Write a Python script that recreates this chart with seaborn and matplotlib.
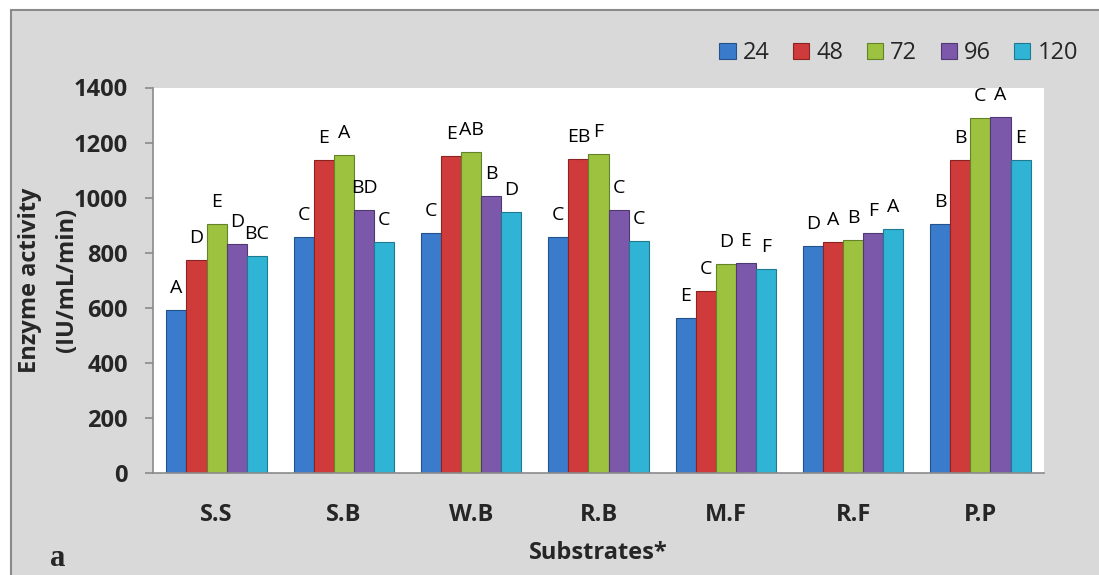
import pandas as pd
import matplotlib
matplotlib.use('Agg')
import matplotlib.pyplot as plt
import seaborn as sns
from matplotlib.patches import Patch, Rectangle

# data
substrates = ['S.S', 'S.B', 'W.B', 'R.B', 'M.F', 'R.F', 'P.P']
hours = ['24', '48', '72', '96', '120']
act_24 = [592, 856, 870, 857, 561, 823, 903]
act_48 = [773, 1137, 1150, 1140, 661, 838, 1137]
act_72 = [904, 1154, 1165, 1159, 758, 845, 1289]
act_96 = [831, 954, 1005, 955, 761, 870, 1292]
act_120 = [788, 838, 947, 841, 740, 884, 1137]
let_24 = ['A', 'C', 'C', 'C', 'E', 'D', 'B']
let_48 = ['D', 'E', 'E', 'EB', 'C', 'A', 'B']
let_72 = ['E', 'A', 'AB', 'F', 'D', 'B', 'C']
let_96 = ['D', 'BD', 'B', 'C', 'E', 'F', 'A']
let_120 = ['BC', 'C', 'D', 'C', 'F', 'A', 'E']

colors = ['#3b7bcb', '#cf3b3b', '#9cc23f', '#7c58aa', '#30b4d5']
edges = ['#24528c', '#8c2323', '#63822a', '#503873', '#1f7a91']

acts = [act_24, act_48, act_72, act_96, act_120]
lets = [let_24, let_48, let_72, let_96, let_120]
rows = []
for h, vals in zip(hours, acts):
    for s, v in zip(substrates, vals):
        rows.append({'Substrate': s, 'Hour': h, 'Activity': v})
df = pd.DataFrame(rows)

sns.set_theme(style='white')
plt.rcParams['font.family'] = ['Open Sans', 'DejaVu Sans']

fig = plt.figure(figsize=(10.99, 5.75), dpi=100, facecolor='white')
# grey chart frame
fig.patches.append(Rectangle((11 / 1099, -0.05), 1.2, 1 - 10 / 575 + 0.05,
                             transform=fig.transFigure, facecolor='#d9d9d9',
                             edgecolor='#8a8a8a', linewidth=1.5, zorder=-10))

ax = fig.add_axes([153 / 1099, 1 - 472.7 / 575, (1044 - 153) / 1099, (472.7 - 87.5) / 575])
ax.set_facecolor('white')

sns.barplot(data=df, x='Substrate', y='Activity', hue='Hour', hue_order=hours,
            order=substrates, palette=colors, width=0.79, saturation=1,
            legend=False, ax=ax, errorbar=None)

for cont, ec, labs in zip(ax.containers, edges, lets):
    for bar, lab in zip(cont, labs):
        bar.set_edgecolor(ec)
        bar.set_linewidth(0.8)
        ax.annotate(lab, (bar.get_x() + bar.get_width() / 2, bar.get_height()),
                    xytext=(0, 22), textcoords='offset pixels',
                    ha='center', va='center', fontsize=14, color='black')

ax.set_ylim(0, 1400)
ax.set_yticks(range(0, 1401, 200))
ax.set_xlim(-0.5, len(substrates) - 0.5)
for side in ['top', 'right']:
    ax.spines[side].set_visible(False)
for side in ['left', 'bottom']:
    ax.spines[side].set_color('#8a8a8a')
    ax.spines[side].set_linewidth(1.2)
ax.tick_params(axis='y', direction='out', length=6, width=1.2, color='#8a8a8a',
               pad=12, labelsize=17, left=True)
ax.tick_params(axis='x', length=0, pad=22, labelsize=17)
for t in ax.get_xticklabels() + ax.get_yticklabels():
    t.set_fontweight('bold')

ax.set_ylabel('Enzyme activity\n(IU/mL/min)', fontsize=17, fontweight='bold',
              linespacing=1.7)
ax.yaxis.set_label_coords(-0.083, 0.5)
ax.set_xlabel('Substrates*', fontsize=17, fontweight='bold', labelpad=10)

handles = [Patch(facecolor=c, edgecolor=e, linewidth=0.8) for c, e in zip(colors, edges)]
fig.legend(handles, hours, loc='center right', bbox_to_anchor=(1078 / 1099, 1 - 53 / 575),
           ncol=5, frameon=False, fontsize=17, handlelength=0.68, handleheight=0.68,
           handletextpad=0.3, columnspacing=1.0, borderpad=0, borderaxespad=0)

fig.text(50 / 1099, 1 - 558 / 575, 'a', fontsize=22, fontweight='bold',
         family='Liberation Serif', va='center', ha='left')

fig.savefig('out.png', dpi=100, facecolor='white')
